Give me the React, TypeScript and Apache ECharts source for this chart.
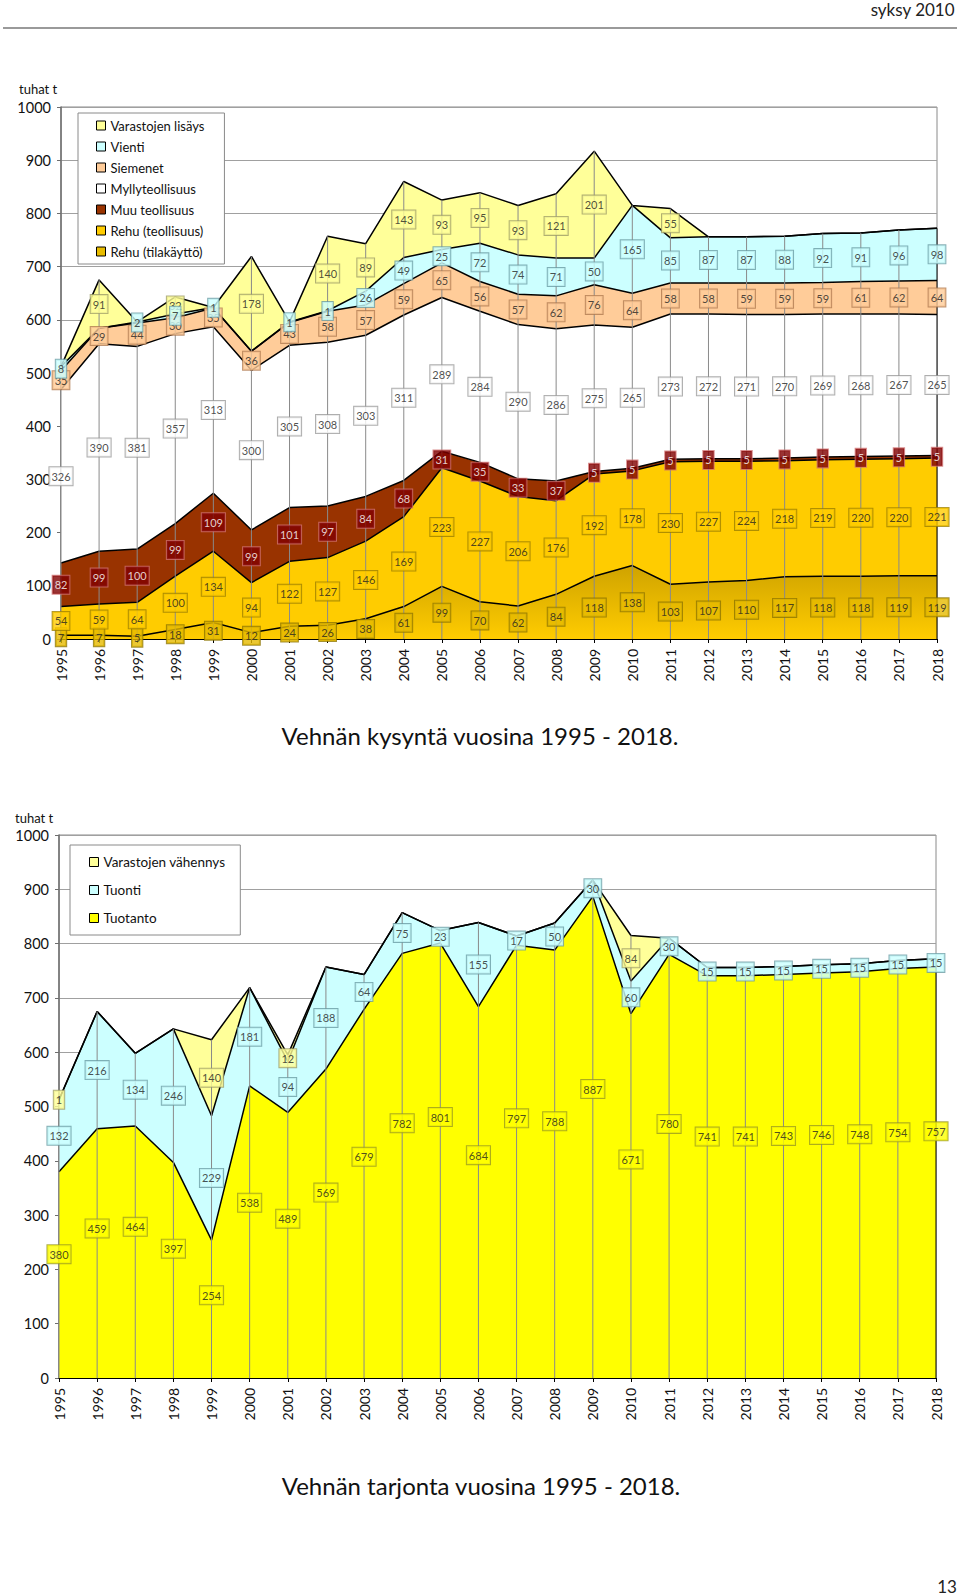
import React, { useEffect, useRef } from "react";
import * as echarts from "echarts";

const years = ["1995","1996","1997","1998","1999","2000","2001","2002","2003","2004","2005","2006","2007","2008","2009","2010","2011","2012","2013","2014","2015","2016","2017","2018"];
const yTicks = [0, 100, 200, 300, 400, 500, 600, 700, 800, 900, 1000];

// Demand (kysyntä), bottom to top of the stack
const rehuTila = [7, 7, 5, 18, 31, 12, 24, 26, 38, 61, 99, 70, 62, 84, 118, 138, 103, 107, 110, 117, 118, 118, 119, 119];
const rehuTeol = [54, 59, 64, 100, 134, 94, 122, 127, 146, 169, 223, 227, 206, 176, 192, 178, 230, 227, 224, 218, 219, 220, 220, 221];
const muuTeol = [82, 99, 100, 99, 109, 99, 101, 97, 84, 68, 31, 35, 33, 37, 5, 5, 5, 5, 5, 5, 5, 5, 5, 5];
const mylly = [326, 390, 381, 357, 313, 300, 305, 308, 303, 311, 289, 284, 290, 286, 275, 265, 273, 272, 271, 270, 269, 268, 267, 265];
const siemenet = [35, 29, 44, 30, 35, 36, 43, 58, 57, 59, 65, 56, 57, 62, 76, 64, 58, 58, 59, 59, 59, 61, 62, 64];
const vienti = [8, 0, 2, 7, 1, 0, 1, 1, 26, 49, 25, 72, 74, 71, 50, 165, 85, 87, 87, 88, 92, 91, 96, 98];
const varLisays = [0, 91, 0, 32, 0, 178, 0, 140, 89, 143, 93, 95, 93, 121, 201, 0, 55, 0, 0, 0, 0, 0, 0, 0];

// Supply (tarjonta), bottom to top of the stack
const tuotanto = [380, 459, 464, 397, 254, 538, 489, 569, 679, 782, 801, 684, 797, 788, 887, 671, 780, 741, 741, 743, 746, 748, 754, 757];
const tuonti = [132, 216, 134, 246, 229, 181, 94, 188, 64, 75, 23, 155, 17, 50, 30, 60, 30, 15, 15, 15, 15, 15, 15, 15];
const varVahennys = [1, 0, 0, 0, 140, 0, 12, 0, 0, 0, 0, 0, 0, 0, 0, 84, 0, 0, 0, 0, 0, 0, 0, 0];

const FONT = "Lato, 'Noto Sans', sans-serif";

type Layer = {
  name: string;
  values: number[];
  fill: any;
  lblBg: string;
  lblBorder: string;
  lblColor: string;
  lblZ: number;
  frac?: number;
};

function buildChart(layers: Layer[], axisIdx: number) {
  const series: any[] = [];
  const base = years.map(() => 0);
  layers.forEach((L) => {
    const solid = typeof L.fill === "string" ? L.fill : "#E8BC00";
    series.push({
      type: "line",
      name: L.name,
      xAxisIndex: axisIdx,
      yAxisIndex: axisIdx,
      stack: "s" + axisIdx,
      data: L.values,
      showSymbol: false,
      symbol: "none",
      color: solid,
      lineStyle: { color: "#000", width: 1.5 },
      itemStyle: { color: solid },
      areaStyle: { color: L.fill, opacity: 1 },
      z: 2,
      silent: true,
    });
    const frac = L.frac ?? 0.5;
    const pts: any[] = [];
    L.values.forEach((v, i) => {
      if (v > 0) pts.push({ value: [i, base[i] + v * frac, v] });
    });
    series.push({
      type: "scatter",
      name: "lbl-" + L.name,
      xAxisIndex: axisIdx,
      yAxisIndex: axisIdx,
      symbol: "rect",
      symbolSize: 1,
      itemStyle: { color: "rgba(0,0,0,0)" },
      silent: true,
      z: L.lblZ,
      data: pts,
      label: {
        show: true,
        position: "inside",
        formatter: (p: any) => String(p.value[2]),
        fontFamily: FONT,
        fontSize: 11,
        color: L.lblColor,
        backgroundColor: L.lblBg,
        borderColor: L.lblBorder,
        borderWidth: 1,
        padding: [4, 2, 3, 2],
      },
    });
    L.values.forEach((v, i) => (base[i] += v));
  });
  const totals = base.slice();
  series.push({
    type: "custom",
    name: "drop" + axisIdx,
    xAxisIndex: axisIdx,
    yAxisIndex: axisIdx,
    z: 3,
    silent: true,
    data: totals.map((t, i) => [i, t]),
    renderItem: (params: any, api: any) => {
      const i = api.value(0);
      const p0 = api.coord([i, 0]);
      const p1 = api.coord([i, api.value(1)]);
      return {
        type: "line",
        shape: { x1: p0[0], y1: p0[1], x2: p1[0], y2: p1[1] },
        style: { stroke: i === years.length - 1 ? "#000" : "#8a8a8a", lineWidth: 1 },
      };
    },
  });
  return series;
}

export default function App() {
  const ref = useRef<HTMLDivElement>(null);
  useEffect(() => {
    if (!ref.current) return;
    const chart = echarts.init(ref.current, null, { renderer: "svg" });

    const tilaGrad = new echarts.graphic.LinearGradient(0, 0, 0, 1, [
      { offset: 0, color: "#CFA300" },
      { offset: 1, color: "#FFCC00" },
    ]);

    const topLayers: Layer[] = [
      { name: "Rehu (tilakäyttö)", values: rehuTila, fill: tilaGrad, lblBg: "#E6BA00", lblBorder: "#8c7400", lblColor: "#222", lblZ: 21 },
      { name: "Rehu (teollisuus)", values: rehuTeol, fill: "#FFCC00", lblBg: "#FFCC00", lblBorder: "#9c8000", lblColor: "#222", lblZ: 22 },
      { name: "Muu teollisuus", values: muuTeol, fill: "#993300", lblBg: "#800000", lblBorder: "#d07070", lblColor: "#fff", lblZ: 23 },
      { name: "Myllyteollisuus", values: mylly, fill: "#FFFFFF", lblBg: "#FFFFFF", lblBorder: "#9a9a9a", lblColor: "#222", lblZ: 24 },
      { name: "Siemenet", values: siemenet, fill: "#FFCC99", lblBg: "#FFCC99", lblBorder: "#b07a50", lblColor: "#222", lblZ: 25 },
      { name: "Vienti", values: vienti, fill: "#CCFFFF", lblBg: "#CCFFFF", lblBorder: "#6a9ca4", lblColor: "#222", lblZ: 27 },
      { name: "Varastojen lisäys", values: varLisays, fill: "#FFFF99", lblBg: "#FFFF99", lblBorder: "#9e9c66", lblColor: "#222", lblZ: 26 },
    ];
    const bottomLayers: Layer[] = [
      { name: "Tuotanto", values: tuotanto, fill: "#FFFF00", lblBg: "#FFFF00", lblBorder: "#9a9a20", lblColor: "#222", lblZ: 21, frac: 0.6 },
      { name: "Tuonti", values: tuonti, fill: "#CCFFFF", lblBg: "#CCFFFF", lblBorder: "#6a9ca4", lblColor: "#222", lblZ: 22 },
      { name: "Varastojen vähennys", values: varVahennys, fill: "#FFFF99", lblBg: "#FFFF99", lblBorder: "#9e9c66", lblColor: "#222", lblZ: 23 },
    ];

    const xAxisCommon = (gi: number) => ({
      type: "category",
      gridIndex: gi,
      data: years,
      boundaryGap: false,
      axisLine: { show: true, lineStyle: { color: "#000", width: 1 } },
      axisTick: { show: true, length: 4, lineStyle: { color: "#000" } },
      axisLabel: { rotate: 90, fontFamily: FONT, fontSize: 14, color: "#111", margin: 10 },
      splitLine: { show: false },
      z: 4,
    });
    const yAxisCommon = (gi: number) => ({
      type: "value",
      gridIndex: gi,
      min: yTicks[0],
      max: yTicks[yTicks.length - 1],
      interval: yTicks[1] - yTicks[0],
      axisLine: { show: true, lineStyle: { color: "#6e6e6e", width: 1.5 } },
      axisTick: { show: true, length: 4, lineStyle: { color: "#6e6e6e" } },
      axisLabel: { fontFamily: FONT, fontSize: 14.5, color: "#111", margin: 10, formatter: (v: number) => String(v) },
      splitLine: { show: true, lineStyle: { color: "#a0a0a0", width: 1 } },
    });

    const legendCommon = {
      orient: "vertical",
      icon: "rect",
      itemWidth: 9,
      itemHeight: 9,
      itemStyle: { borderColor: "#000", borderWidth: 1 },
      backgroundColor: "#fff",
      borderColor: "#8a8a8a",
      borderWidth: 1,
      borderRadius: 0,
      selectedMode: false,
      textStyle: { fontFamily: FONT, fontSize: 13, color: "#111" },
    };

    chart.setOption({
      animation: false,
      backgroundColor: "#fff",
      grid: [
        { left: 61, right: 23, top: 107, height: 532, show: true, borderColor: "#8a8a8a", borderWidth: 1, backgroundColor: "transparent" },
        { left: 59, right: 24, top: 835, height: 543, show: true, borderColor: "#8a8a8a", borderWidth: 1, backgroundColor: "transparent" },
      ],
      xAxis: [xAxisCommon(0), xAxisCommon(1)],
      yAxis: [yAxisCommon(0), yAxisCommon(1)],
      legend: [
        {
          ...legendCommon,
          left: 78,
          top: 113,
          itemGap: 6,
          padding: [5, 20, 5, 18],
          textStyle: { ...legendCommon.textStyle, lineHeight: 15 },
          data: ["Varastojen lisäys", "Vienti", "Siemenet", "Myllyteollisuus", "Muu teollisuus", "Rehu (teollisuus)", "Rehu (tilakäyttö)"],
        },
        {
          ...legendCommon,
          left: 70,
          top: 845,
          itemGap: 12,
          padding: [9, 15, 9, 19],
          textStyle: { ...legendCommon.textStyle, fontSize: 13.5, lineHeight: 16 },
          data: ["Varastojen vähennys", "Tuonti", "Tuotanto"],
        },
      ],
      graphic: [
        { type: "text", right: 5, top: 1, style: { text: "syksy 2010", font: `17px ${FONT}`, fill: "#222" } },
        { type: "line", shape: { x1: 3, y1: 28, x2: 957, y2: 28 }, style: { stroke: "#9a9a9a", lineWidth: 2 } },
        { type: "text", left: 19, top: 82, style: { text: "tuhat t", font: `13px ${FONT}`, fill: "#111" } },
        { type: "text", left: 15, top: 811, style: { text: "tuhat t", font: `13px ${FONT}`, fill: "#111" } },
        { type: "text", x: 480, y: 735, style: { text: "Vehnän kysyntä vuosina 1995 - 2018.", font: `24px ${FONT}`, fill: "#111", align: "center", verticalAlign: "middle" } },
        { type: "text", x: 481, y: 1485, style: { text: "Vehnän tarjonta vuosina 1995 - 2018.", font: `24px ${FONT}`, fill: "#111", align: "center", verticalAlign: "middle" } },
        { type: "text", x: 947, y: 1586, style: { text: "13", font: `17px ${FONT}`, fill: "#222", align: "center", verticalAlign: "middle" } },
      ],
      series: [...buildChart(topLayers, 0), ...buildChart(bottomLayers, 1)],
    });

    return () => chart.dispose();
  }, []);

  return (
    <div
      ref={ref}
      style={{ position: "absolute", left: 0, top: 0, width: 960, height: 1596, background: "#fff" }}
    />
  );
}
